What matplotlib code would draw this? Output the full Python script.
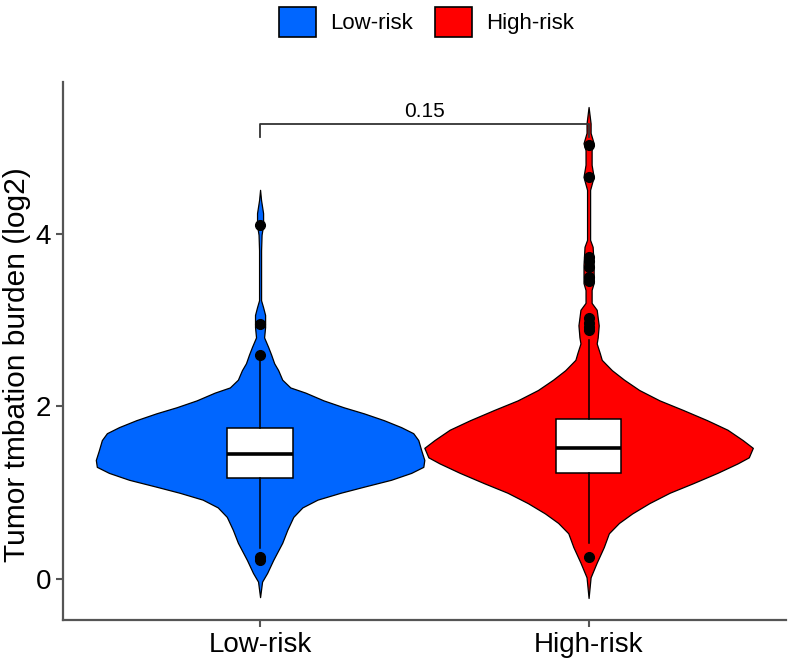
import numpy as np
import matplotlib.pyplot as plt
from matplotlib.patches import Patch

plt.rcParams['font.family'] = ['Liberation Sans', 'DejaVu Sans']

groups = ['Low-risk', 'High-risk']
colors = ['#0066FF', '#FF0000']

# violin outlines: y value and relative half-width
low_y = [4.51, 4.39, 4.24, 4.10, 3.99, 3.81, 3.23, 3.15, 3.06, 2.92, 2.80, 2.69, 2.60, 2.50,
         2.42, 2.31, 2.22, 2.16, 2.07, 1.99, 1.92, 1.84, 1.76, 1.69, 1.61, 1.49, 1.38, 1.30,
         1.23, 1.15, 1.07, 1.00, 0.92, 0.83, 0.72, 0.57, 0.42, 0.22, 0.07, -0.03, -0.21]
low_w = [0, 1, 3, 3, 1.5, 1, 1, 3, 5, 5, 4, 8, 11, 14,
         18, 22, 30, 45, 63, 83, 103, 123, 140, 152, 157, 160, 163, 162,
         150, 130, 103, 80, 57, 42, 33, 27, 22, 13, 7, 2, 0]
high_y = [5.47, 5.28, 5.17, 5.05, 4.97, 4.80, 4.66, 4.51, 3.93, 3.85, 3.64, 3.43, 3.35, 3.20,
          3.12, 2.94, 2.80, 2.73, 2.62, 2.54, 2.42, 2.31, 2.19, 2.07, 1.96, 1.84, 1.73, 1.61,
          1.52, 1.41, 1.34, 1.23, 1.11, 1.00, 0.88, 0.76, 0.65, 0.53, 0.37, 0.19, 0.02, -0.22]
high_w = [0, 2, 2, 5, 3, 3, 5, 1.5, 1.5, 4, 5, 5, 3, 3,
          8, 10, 9, 8, 11, 13, 23, 35, 50, 70, 93, 117, 137, 152,
          162, 158, 147, 127, 103, 80, 60, 43, 30, 20, 15, 8, 2, 0]

# box stats
q1 = [1.17, 1.23]
med = [1.45, 1.52]
q3 = [1.75, 1.85]
whislo = [0.36, 0.42]
whishi = [2.55, 2.77]
fliers = [[4.10, 2.95, 2.60, 0.25, 0.22],
          [5.03, 4.66, 3.73, 3.68, 3.62, 3.50, 3.45, 3.03, 2.97, 2.92, 2.88, 0.26]]

p_value = '0.15'

fig = plt.figure(figsize=(7.89, 6.61), dpi=100)
ax = fig.add_axes([0.0798, 0.062, 0.916, 0.814])

for i, (vy, vw) in enumerate([(low_y, low_w), (high_y, high_w)]):
    vy = np.array(vy)
    vw = np.array(vw, dtype=float)
    vw = vw / vw.max() * 0.5
    ax.fill_betweenx(vy, i + 1 - vw, i + 1 + vw, facecolor=colors[i],
                     edgecolor='black', linewidth=0.9, zorder=2)

stats = []
for i in range(2):
    stats.append(dict(med=med[i], q1=q1[i], q3=q3[i], whislo=whislo[i],
                      whishi=whishi[i], fliers=fliers[i]))
ax.bxp(stats, positions=[1, 2], widths=0.2, patch_artist=True, showcaps=False,
       boxprops=dict(facecolor='white', edgecolor='black', linewidth=1.1),
       medianprops=dict(color='black', linewidth=2.6),
       whiskerprops=dict(color='black', linewidth=1.1),
       flierprops=dict(marker='o', markerfacecolor='black', markeredgecolor='black',
                       markersize=7, linestyle='none'),
       zorder=3)

# significance bracket
ax.plot([1, 1, 2, 2], [5.12, 5.27, 5.27, 5.12], color='#333333', lw=1.3, zorder=4)
ax.text(1.5, 5.31, p_value, ha='center', va='bottom', fontsize=15)

ax.set_xlim(0.4, 2.6)
ax.set_ylim(-0.475, 5.76)
ax.set_xticks([1, 2])
ax.set_xticklabels(groups)
ax.set_yticks([0, 2, 4])
ax.set_ylabel('Tumor tmbation burden (log2)', fontsize=21.5, ha='center', va='center')
ax.yaxis.set_label_coords(-0.064, 0.474)
ax.tick_params(labelsize=20, color='#555555', width=1.5, length=5)
for s in ['top', 'right']:
    ax.spines[s].set_visible(False)
for s in ['left', 'bottom']:
    ax.spines[s].set_color('#555555')
    ax.spines[s].set_linewidth(1.6)

handles = [Patch(facecolor=c, edgecolor='black', linewidth=1.2) for c in colors]
fig.legend(handles, groups, loc='center', bbox_to_anchor=(0.54, 0.967), ncol=2,
           frameon=False, fontsize=16, handlelength=1.7, handleheight=1.7,
           columnspacing=1.0, handletextpad=0.6)

fig.savefig('out.png', dpi=100)
